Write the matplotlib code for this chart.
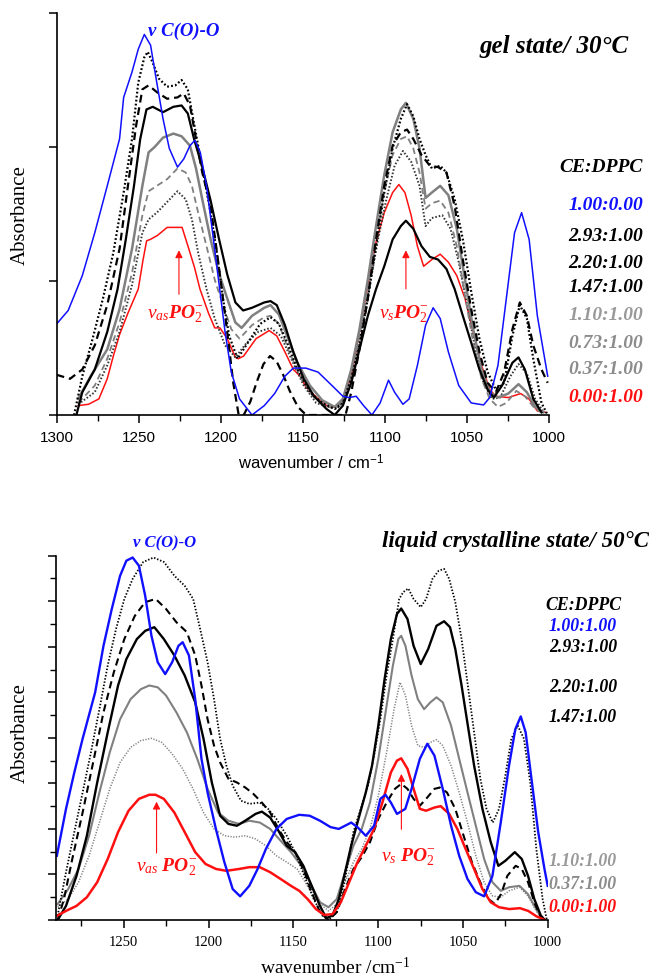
import matplotlib
matplotlib.use("Agg")
import matplotlib.pyplot as plt
from matplotlib.ticker import MultipleLocator

plt.rcParams['mathtext.fontset'] = 'custom'
plt.rcParams['mathtext.rm'] = 'Liberation Serif'
plt.rcParams['mathtext.it'] = 'Liberation Serif:italic'
plt.rcParams['mathtext.bf'] = 'Liberation Serif:bold:italic'

# ---------------- DATA: gel state / 30 C  (wavenumber, absorbance) ----------------
gel_100_000 = [(1300,0.68),(1293,0.78),(1284.4,1.04),(1276.8,1.36),(1269.2,1.71),(1261.7,2.06),(1259.2,2.37),
    (1254.1,2.56),(1250.3,2.73),(1246.6,2.84),(1242.8,2.76),(1239,2.48),(1235.2,2.21),(1231.4,1.99),(1226.4,1.85),
    (1222.6,1.91),(1218.8,2.01),(1215.8,2.05),(1212.5,1.96),(1208.7,1.71),(1205,1.36),(1201.2,0.99),(1197.4,0.62),
    (1193.6,0.32),(1188.6,0.12),(1181,0.0),(1173.5,0.07),(1167.2,0.16),(1160.9,0.29),(1155.8,0.35),(1148.2,0.35),
    (1140.7,0.32),(1133.1,0.23),(1125.6,0.14),(1121.8,0.13),(1117.5,0.14),(1113,0.07),(1107.9,0.0),(1102.9,0.09),
    (1097.8,0.26),(1094.1,0.17),(1089,0.08),(1085.2,0.12),(1080.2,0.37),(1075.2,0.67),(1070.6,0.80),(1066.3,0.72),
    (1061.3,0.47),(1055,0.22),(1047.4,0.09),(1039.9,0.075),(1036.1,0.13),(1031.1,0.37),(1026,0.87),(1021,1.36),
    (1016.7,1.51),(1012.1,1.31),(1007.1,0.74),(1000.8,0.29)]
gel_293_100 = [(1289.4,0.0),(1284.4,0.29),(1278.1,0.57),(1271.8,0.87),(1265.5,1.21),(1259.2,1.66),(1254.1,2.06),
    (1250.3,2.48),(1246.6,2.67),(1244.5,2.71),(1241.5,2.63),(1237.7,2.51),(1232.7,2.45),(1227.7,2.46),(1223.9,2.50),
    (1220.1,2.43),(1217.6,2.26),(1213.8,2.01),(1210,1.76),(1206.2,1.51),(1202.4,1.21),(1198.7,0.87),(1194.9,0.59),
    (1189.8,0.42),(1183.5,0.54),(1176,0.68),(1169.7,0.73),(1164.6,0.68),(1159.6,0.54),(1153.3,0.34),(1145.7,0.17),
    (1138.2,0.09),(1130.6,0.045),(1125.6,0.09),(1120.5,0.27),(1115.5,0.52),(1110.4,0.87),(1105.4,1.26),(1100.4,1.66),
    (1095.3,1.99),(1090.3,2.21),(1086.5,2.32),(1082.7,2.23),(1078.9,2.06),(1075.2,1.94),(1071.4,1.84),(1066.3,1.86),
    (1062.5,1.81),(1057.5,1.61),(1052.5,1.31),(1047.4,0.92),(1042.4,0.57),(1037.4,0.32),(1032.4,0.19),(1027.3,0.24),
    (1022.3,0.59),(1017.8,0.82),(1013.5,0.72),(1009.6,0.42),(1004.6,0.09),(1000.8,0.0)]
gel_220_100 = [(1300,0.30),(1291.9,0.27),(1284.4,0.34),(1276.8,0.52),(1269.2,0.82),(1261.7,1.24),(1256.6,1.71),
    (1251.6,2.16),(1247.8,2.43),(1244,2.46),(1239,2.41),(1232.7,2.36),(1226.4,2.37),(1222.6,2.40),(1218.8,2.31),
    (1215.1,2.06),(1211.3,1.81),(1206.2,1.56),(1201.2,1.11),(1196.1,0.62),(1192.4,0.24),(1189.1,0.0),(1186,0.0),
    (1182,0.10),(1178,0.25),(1174,0.38),(1170,0.44),(1166,0.40),(1162,0.30),(1158,0.18),(1153,0.06),(1148,0.0),
    (1124,0.0),(1120.5,0.17),(1115.5,0.49),(1110.4,0.87),(1105.4,1.31),(1100.4,1.71),(1095.3,2.01),(1090.3,2.11),
    (1086.5,2.13),(1082.7,2.06),(1077.7,1.94),(1072.6,1.86),(1067.6,1.85),(1062.5,1.81),(1057.5,1.56),(1052.5,1.16),
    (1047.4,0.79),(1042.4,0.47),(1037.4,0.24),(1032.4,0.17),(1027.3,0.32),(1022.3,0.64),(1017.8,0.84),(1013.5,0.74),
    (1009.6,0.52),(1004.6,0.34),(1000.8,0.24)]
gel_147_100 = [(1288,0.0),(1284.4,0.17),(1276.8,0.34),(1269.2,0.62),(1262.9,0.94),(1257.9,1.31),(1252.9,1.71),
    (1249.1,2.06),(1245.3,2.28),(1241.5,2.30),(1235.2,2.26),(1228.9,2.30),(1223.9,2.31),(1220.1,2.25),(1216.3,2.06),
    (1211.3,1.85),(1206.2,1.60),(1201.2,1.32),(1196.1,1.05),(1191.1,0.84),(1186.4,0.78),(1181,0.80),(1173.5,0.84),
    (1169.7,0.85),(1165.9,0.82),(1160.9,0.67),(1155.8,0.47),(1149.5,0.27),(1143.2,0.14),(1135.6,0.045),(1130.6,0.0),
    (1125.6,0.07),(1120.5,0.24),(1115.5,0.49),(1110.4,0.74),(1105.4,0.94),(1100.4,1.11),(1095.3,1.31),(1090.3,1.41),
    (1087.2,1.45),(1082.7,1.39),(1077.7,1.26),(1072.6,1.18),(1067.6,1.16),(1062.5,1.09),(1057.5,0.94),(1052.5,0.74),
    (1047.4,0.54),(1042.4,0.34),(1037.4,0.19),(1033.6,0.13),(1028.6,0.22),(1022.3,0.39),(1018.6,0.43),(1014.7,0.34),
    (1009.6,0.12),(1004.6,0.02)]
gel_110_100 = [(1286.9,0.12),(1279.3,0.29),(1269.2,0.49),(1261.7,0.79),(1254.1,1.24),(1247.8,1.71),(1244,1.96),
    (1240.3,2.00),(1235.2,2.07),(1228.9,2.10),(1223.9,2.08),(1218.8,2.01),(1215.1,1.84),(1211.3,1.61),(1206.2,1.31),
    (1201.2,1.06),(1196.1,0.87),(1191.1,0.69),(1187.3,0.65),(1181,0.74),(1173.5,0.80),(1169.7,0.82),(1164.6,0.75),
    (1159.6,0.59),(1153.3,0.39),(1145.7,0.22),(1138.2,0.11),(1130.6,0.06),(1125.6,0.12),(1120.5,0.34),(1115.5,0.64),
    (1110.4,1.01),(1105.4,1.41),(1100.4,1.79),(1095.3,2.11),(1090.3,2.28),(1087.2,2.33),(1082.7,2.21),(1078.9,1.99),
    (1075.2,1.62),(1071.4,1.66),(1066.3,1.71),(1061.3,1.64),(1056.2,1.39),(1051.2,1.01),(1046.2,0.64),(1041.1,0.34),
    (1036.1,0.17),(1031.1,0.13),(1024.8,0.16),(1018.6,0.23),(1013.5,0.17),(1008.4,0.06),(1003.3,0.02)]
gel_073_100 = [(1286.9,0.09),(1276.8,0.22),(1269.2,0.42),(1261.7,0.69),(1254.1,1.06),(1247.8,1.49),(1244,1.67),
    (1239,1.71),(1232.7,1.76),(1226.4,1.84),(1221.4,1.81),(1217.6,1.71),(1213.8,1.51),(1208.7,1.26),(1203.7,1.01),
    (1198.7,0.82),(1193.6,0.64),(1188.6,0.57),(1181,0.67),(1173.5,0.73),(1169.7,0.74),(1164.6,0.68),(1158.3,0.47),
    (1150.8,0.27),(1143.2,0.13),(1135.6,0.07),(1130.6,0.045),(1125.6,0.11),(1120.5,0.29),(1115.5,0.59),(1110.4,0.94),
    (1105.4,1.31),(1100.4,1.66),(1095.3,1.94),(1090.3,2.06),(1086.5,2.08),(1082.7,1.99),(1078.9,1.81),(1075.2,1.54),
    (1071.4,1.58),(1066.3,1.60),(1061.3,1.51),(1056.2,1.26),(1051.2,0.89),(1046.2,0.54),(1041.1,0.27),(1036.1,0.12),
    (1031.1,0.06),(1026,0.09),(1019.9,0.18),(1014.7,0.14),(1008.4,0.045),(1003.3,0.01)]
gel_037_100 = [(1286.9,0.08),(1276.8,0.17),(1269.2,0.37),(1261.7,0.62),(1254.1,0.97),(1247.8,1.36),(1244,1.46),
    (1239,1.51),(1232.7,1.59),(1226.4,1.67),(1221.4,1.61),(1217.6,1.46),(1213.8,1.21),(1208.7,0.94),(1203.7,0.72),
    (1197.4,0.52),(1191.1,0.43),(1184.8,0.53),(1177.3,0.62),(1169.7,0.65),(1163.4,0.59),(1157.1,0.42),(1149.5,0.22),
    (1141.9,0.09),(1134.4,0.06),(1129.3,0.045),(1124.3,0.12),(1119.3,0.32),(1114.2,0.64),(1109.2,0.97),(1104.2,1.31),
    (1099.1,1.61),(1094.1,1.86),(1089,1.97),(1084,1.89),(1078.9,1.71),(1075.2,1.41),(1071.4,1.47),(1065,1.49),
    (1060,1.39),(1055,1.14),(1049.9,0.82),(1044.9,0.49),(1039.9,0.24),(1034.8,0.12),(1029.8,0.13),(1023.5,0.29),
    (1018.6,0.38),(1013.5,0.31),(1008.4,0.12),(1003.3,0.02)]
gel_000_100 = [(1286.9,0.07),(1280.6,0.08),(1274.3,0.12),(1269.2,0.27),(1265.5,0.44),(1261.7,0.60),(1256.6,0.76),
    (1250.3,0.94),(1247.5,1.15),(1245.2,1.30),(1243,1.31),(1238.6,1.34),(1232.7,1.40),(1223.6,1.40),(1220,1.26),
    (1216,1.10),(1212.7,0.94),(1207.5,0.76),(1203.7,0.65),(1200.5,0.65),(1196.1,0.57),(1191.1,0.43),(1189.3,0.42),
    (1186.1,0.44),(1178.5,0.57),(1170.5,0.63),(1165.9,0.59),(1160.9,0.47),(1155.8,0.34),(1151.7,0.29),(1148.2,0.21),
    (1140.7,0.12),(1134.4,0.06),(1130.6,0.06),(1125.6,0.12),(1120.5,0.29),(1115.5,0.62),(1110.4,0.97),(1105.4,1.29),
    (1100.4,1.51),(1095.3,1.66),(1091.5,1.72),(1087.8,1.66),(1084,1.49),(1080.2,1.26),(1076.4,1.11),(1071.4,1.16),
    (1066.3,1.20),(1061.3,1.14),(1056.2,1.04),(1051.2,0.87),(1046.2,0.62),(1041.1,0.37),(1036.1,0.19),(1032.4,0.14),
    (1024.8,0.13),(1017.3,0.16),(1012.2,0.12),(1007.1,0.03),(1002,0.02)]

# ---------------- DATA: liquid crystalline state / 50 C ----------------
lc_100_100 = [(1289.5,1.41),(1284.1,2.44),(1279.2,3.24),(1274.3,3.98),(1266.9,5.00),(1262,6.02),(1257.1,6.83),
    (1252.2,7.56),(1248.5,7.89),(1244.8,7.96),(1241.1,7.78),(1237.4,7.12),(1233.7,6.24),(1230,5.66),(1225.6,5.40),
    (1221.5,5.66),(1217.8,6.02),(1215.3,6.10),(1211.6,5.81),(1207.9,4.85),(1204.2,3.54),(1200.6,2.80),(1195.7,2.00),
    (1190.7,1.27),(1185.8,0.68),(1181.4,0.52),(1176,0.75),(1171.1,1.12),(1166.2,1.56),(1160,2.00),(1153.9,2.22),
    (1146.6,2.31),(1140.4,2.29),(1134.3,2.18),(1128.1,2.04),(1123.2,2.00),(1119.5,2.07),(1115.9,2.14),(1112.2,2.04),
    (1107.3,1.85),(1102.4,2.07),(1098.7,2.66),(1095.7,2.75),(1092.5,2.58),(1088.9,2.33),(1084,2.44),(1080.3,2.88),
    (1075.4,3.54),(1071,3.87),(1066.8,3.61),(1061.9,2.88),(1057,2.07),(1052.2,1.41),(1047.3,0.90),(1042.4,0.61),
    (1037.5,0.52),(1032.6,0.97),(1027.7,2.14),(1022.8,3.39),(1019.1,4.19),(1015.9,4.47),(1013,4.12),(1009.3,3.02),
    (1005.6,1.93),(1001.9,1.12),(1000,0.75)]
lc_293_100 = [(1289,0.10),(1284.1,1.05),(1279.2,1.93),(1274.3,2.80),(1269.4,3.68),(1264.4,4.63),(1259.5,5.59),
    (1254.6,6.39),(1249.7,7.05),(1244.8,7.49),(1238.6,7.86),(1232.5,7.96),(1226.3,7.86),(1220.2,7.56),(1214.1,7.34),
    (1209.1,7.05),(1205.4,6.46),(1200.6,5.66),(1196.8,4.85),(1193.2,3.98),(1189.5,3.39),(1185.8,2.95),(1180.9,2.62),
    (1176,2.55),(1169.8,2.58),(1164.9,2.44),(1160,2.22),(1153.9,1.85),(1149,1.49),(1142.8,0.90),(1138,0.46),
    (1133,0.10),(1129.3,0.0),(1124.4,0.17),(1119.5,0.90),(1114.6,1.93),(1109.7,2.51),(1106,2.95),(1102.4,3.61),
    (1098.7,4.41),(1095,5.37),(1091.3,6.17),(1087.6,7.05),(1085.2,7.20),(1082.2,7.28),(1079.1,7.05),(1074.9,6.87),
    (1071.7,7.05),(1068,7.49),(1064.3,7.67),(1061.1,7.71),(1058.1,7.49),(1054.5,6.98),(1050.8,6.17),(1047.1,5.15),
    (1043.4,4.12),(1039.7,3.10),(1036.1,2.44),(1032.4,2.14),(1028.7,2.44),(1025,3.17),(1021.4,3.98),(1017.7,4.27),
    (1014,3.98),(1010.3,3.02),(1006.7,1.56),(1003,0.46),(1000.5,0.0)]
lc_220_100 = [(1289,0.0),(1285.3,0.46),(1280.4,1.34),(1274.3,2.36),(1268.1,3.46),(1262,4.56),(1255.9,5.44),
    (1249.7,6.17),(1243.5,6.68),(1237.4,6.98),(1231.2,7.05),(1225.1,6.83),(1219,6.54),(1212.8,6.32),(1207.9,5.81),
    (1204.2,5.15),(1200.6,4.41),(1196.8,3.83),(1193.2,3.46),(1188.3,3.10),(1183.3,3.02),(1178.4,2.91),(1173.6,2.77),
    (1168.6,2.58),(1163.7,2.36),(1158.8,2.00),(1153.9,1.71),(1149,1.49),(1144.1,1.12),(1139.2,0.61),(1134.3,0.17),
    (1129.3,0.0),(1124.4,0.17),(1119.5,0.68),(1114.6,1.12),(1109.7,1.38),(1104.8,1.71),(1099.9,2.22),(1095,2.58),
    (1090.1,2.88),(1086.4,2.99),(1082.7,2.88),(1079.1,2.66),(1075.4,2.51),(1071.7,2.66),(1066.8,2.88),(1063.6,2.91),
    (1059.4,2.80),(1054.5,2.44),(1049.6,1.85),(1044.7,1.27),(1039.8,0.83),(1034.9,0.46),(1031.2,0.35),(1027.5,0.57),
    (1023.8,0.97),(1018.9,1.19),(1015.3,1.12),(1011.6,0.83),(1007.9,0.39),(1004.1,0.06)]
lc_147_100 = [(1289,0.0),(1284.1,0.31),(1277.9,0.97),(1271.8,1.85),(1265.7,3.02),(1259.5,4.12),(1253.4,5.15),
    (1248.5,5.73),(1242.3,6.17),(1237.4,6.35),(1232,6.43),(1226.4,6.17),(1220.2,5.81),(1214.1,5.37),(1207.9,4.78),
    (1203,3.98),(1198.1,3.02),(1193.2,2.29),(1188.3,2.11),(1183.3,2.07),(1178.4,2.18),(1172.3,2.33),(1168.6,2.38),
    (1163.7,2.25),(1158.8,1.96),(1153.9,1.63),(1149,1.49),(1144.1,1.19),(1139.2,0.75),(1134.3,0.31),(1130.6,0.04),
    (1126.9,0.10),(1123.2,0.46),(1119.5,1.05),(1115.9,1.63),(1112.2,2.14),(1107.3,2.80),(1103.6,3.39),(1099.9,4.27),
    (1096.2,5.29),(1092.5,6.17),(1088.9,6.72),(1086.4,6.84),(1082.7,6.61),(1079.1,6.02),(1074.9,5.62),(1070.5,5.95),
    (1065.6,6.46),(1061.1,6.56),(1057.6,6.43),(1054.5,5.95),(1050.8,5.15),(1047.1,4.27),(1043.4,3.39),(1038.5,2.44),
    (1033.6,1.71),(1029.1,1.19),(1025,1.30),(1019.4,1.49),(1015.3,1.34),(1011.6,0.97),(1007.9,0.46),(1004.1,0.10),
    (1001.7,0.0)]
lc_110_100 = [(1289,0.35),(1282.8,0.68),(1276.7,1.12),(1270.5,1.85),(1264.4,2.80),(1258.3,3.68),(1252.2,4.41),
    (1246,4.85),(1239.9,5.07),(1235,5.15),(1230,5.11),(1225.1,4.93),(1219,4.56),(1212.8,4.12),(1206.7,3.54),
    (1200.6,2.88),(1194.4,2.36),(1188.3,2.18),(1182.1,2.11),(1176,2.18),(1169.8,2.14),(1163.7,2.00),(1157.5,1.74),
    (1151.4,1.49),(1145.3,1.19),(1139.2,0.75),(1134.3,0.39),(1129.3,0.28),(1124.4,0.46),(1119.5,1.05),(1114.6,1.63),
    (1109.7,2.00),(1104.8,2.58),(1099.9,3.54),(1095,4.71),(1091.3,5.59),(1088.1,6.17),(1086.4,6.24),(1083.9,6.02),
    (1080.3,5.37),(1076.6,4.85),(1072.9,4.63),(1069.2,4.78),(1065.6,4.89),(1061.9,4.78),(1057,4.27),(1052.2,3.54),
    (1047.3,2.80),(1042.4,2.07),(1037.5,1.34),(1032.6,0.83),(1027.7,0.64),(1022.8,0.72),(1016.6,0.75),(1011.7,0.57),
    (1006.8,0.24),(1003.1,0.02)]
lc_037_100 = [(1289,0.28),(1282.8,0.46),(1276.7,0.83),(1270.5,1.41),(1264.4,2.14),(1258.3,2.88),(1252.2,3.46),
    (1246,3.79),(1239.9,3.94),(1233.7,3.99),(1227.6,3.90),(1221.5,3.65),(1215.3,3.32),(1209.2,2.88),(1203,2.36),
    (1196.8,2.00),(1190.7,1.85),(1184.6,1.82),(1178.4,1.85),(1172.3,1.78),(1166.2,1.63),(1160,1.41),(1153.9,1.27),
    (1147.8,1.12),(1141.7,0.75),(1135.5,0.39),(1129.3,0.20),(1124.4,0.35),(1119.5,0.83),(1114.6,1.27),(1109.7,1.56),
    (1104.8,2.00),(1099.9,2.73),(1095,3.68),(1090.6,4.63),(1087.1,5.22),(1083.9,4.93),(1080.3,4.27),(1076.6,3.83),
    (1072.9,3.79),(1069.2,3.90),(1065.6,3.96),(1061.9,3.83),(1057,3.39),(1052.2,2.80),(1047.3,2.14),(1042.4,1.41),
    (1037.5,0.83),(1032.6,0.53),(1027.7,0.50),(1022.8,0.64),(1016.6,0.72),(1011.7,0.53),(1006.8,0.20),(1003.1,0.02)]
lc_000_100 = [(1289,0.10),(1284.1,0.20),(1277.9,0.31),(1271.8,0.50),(1265.7,0.83),(1259.5,1.34),(1253.4,1.93),
    (1247.2,2.40),(1241.1,2.66),(1235,2.75),(1231.3,2.75),(1226.4,2.66),(1220.2,2.36),(1214.1,1.93),(1207.9,1.49),
    (1201.8,1.23),(1195.6,1.12),(1189.5,1.08),(1182.1,1.12),(1176,1.16),(1169.8,1.16),(1163.7,1.05),(1157.5,0.90),
    (1151.4,0.75),(1146.5,0.64),(1141.6,0.46),(1136.7,0.24),(1131.8,0.11),(1126.9,0.13),(1122,0.39),(1117.1,0.83),
    (1112.2,1.27),(1107.3,1.63),(1102.4,2.00),(1097.5,2.58),(1092.5,3.24),(1088.9,3.50),(1086.4,3.55),(1082.7,3.32),
    (1079.1,2.88),(1075.4,2.44),(1071.7,2.40),(1066.8,2.47),(1063.1,2.50),(1058.1,2.33),(1053.3,2.00),(1048.4,1.56),
    (1043.4,1.12),(1038.5,0.68),(1033.6,0.39),(1028.7,0.28),(1022.6,0.24),(1016.4,0.26),(1011.5,0.20),(1006.6,0.08),
    (1001.7,0.0)]

gel_labels = ['1.00:0.00', '2.93:1.00', '2.20:1.00', '1.47:1.00', '1.10:1.00', '0.73:1.00', '0.37:1.00', '0.00:1.00']
lc_labels = ['1.00:1.00', '2.93:1.00', '2.20:1.00', '1.47:1.00', '1.10:1.00', '0.37:1.00', '0.00:1.00']
gel_xticks = [1300, 1250, 1200, 1150, 1100, 1050, 1000]
lc_xticks = [1250, 1200, 1150, 1100, 1050, 1000]

# ---------------- STYLE ----------------
BLUE = '#1010ff'
RED = '#ff1010'
BLACK = '#000000'
GRAY = '#808080'
LGRAY = '#8c8c8c'
SERIF = 'Liberation Serif'
SANS = 'Liberation Sans'

W, H = 649, 978
fig = plt.figure(figsize=(W / 100, H / 100), dpi=100)


def fp(x, y):
    return x / W, 1 - y / H


def axes_px(x0, y0, x1, y1):
    return fig.add_axes([x0 / W, 1 - y1 / H, (x1 - x0) / W, (y1 - y0) / H])


def style_axes(ax, tickfont, tsize, pad):
    for s in ('top', 'right'):
        ax.spines[s].set_visible(False)
    for s in ('left', 'bottom'):
        ax.spines[s].set_linewidth(1.2)
    ax.tick_params(axis='both', which='major', direction='out', length=6, width=1.1,
                   labelsize=tsize, pad=pad)
    ax.tick_params(axis='both', which='minor', direction='out', length=4, width=1.0)
    ax.tick_params(axis='y', which='both', labelleft=False)
    for lab in ax.get_xticklabels():
        lab.set_fontfamily(tickfont)


def draw(ax, data, color, ls, lw):
    w, a = zip(*data)
    ax.plot(w, a, color=color, linestyle=ls, linewidth=lw, solid_joinstyle='round')


DOT = (0, (0.8, 1.0))
DASH = (0, (3.5, 2.2))

# ---------------- TOP PANEL ----------------
ax1 = axes_px(56.7, 14, 549, 416)
ax1.set_xlim(1300, 1000)
ax1.set_ylim(0, 3)
ax1.set_xticks(gel_xticks)
ax1.xaxis.set_minor_locator(MultipleLocator(25))
ax1.yaxis.set_major_locator(MultipleLocator(1))
style_axes(ax1, SANS, 11, 5)

draw(ax1, gel_000_100, RED, '-', 1.1)
draw(ax1, gel_037_100, '#333333', DOT, 1.4)
draw(ax1, gel_073_100, GRAY, DASH, 1.3)
draw(ax1, gel_110_100, GRAY, '-', 1.8)
draw(ax1, gel_147_100, BLACK, '-', 1.6)
draw(ax1, gel_220_100, BLACK, DASH, 1.6)
draw(ax1, gel_293_100, BLACK, DOT, 1.6)
draw(ax1, gel_100_000, BLUE, '-', 1.1)

ax1.annotate('', xy=(1225.5, 1.25), xytext=(1225.5, 0.88),
             arrowprops=dict(arrowstyle='-|>', color=RED, lw=0.8, mutation_scale=11))
ax1.annotate('', xy=(1087.2, 1.25), xytext=(1087.2, 0.92),
             arrowprops=dict(arrowstyle='-|>', color=RED, lw=0.8, mutation_scale=11))
ax1.text(1227.5, 0.76, r'$\nu_{as}\mathbf{PO}_{2}^{-}$', color=RED, fontsize=14,
         ha='center', va='center')
ax1.text(1088.4, 0.76, r'$\nu_{s}\mathbf{PO}_{2}^{-}$', color=RED, fontsize=14,
         ha='center', va='center')

fig.text(*fp(148, 31), 'ν C(O)-O', color=BLUE, fontsize=13.5, family=SERIF,
         weight='bold', style='italic', ha='left', va='center')
fig.text(*fp(629, 47), 'gel state/ 30°C', color=BLACK, fontsize=18, family=SERIF,
         weight='bold', style='italic', ha='right', va='center')
fig.text(*fp(20, 215), 'Absorbance', fontsize=15, family=SERIF, rotation=90,
         ha='center', va='center')
fig.text(*fp(311, 463), r'wavenumber / cm$^{\mathregular{-1}}$', fontsize=12, family=SANS,
         ha='center', va='center')

gel_colors = [BLUE, BLACK, BLACK, BLACK, '#999999', LGRAY, LGRAY, RED]
gel_ly = [205, 237, 263, 288, 316, 343, 370, 397]
fig.text(*fp(643, 167), 'CE:DPPC', fontsize=14, family=SERIF, weight='bold',
         style='italic', ha='right', va='center')
for lab, col, y in zip(gel_labels, gel_colors, gel_ly):
    fig.text(*fp(643, y), lab, color=col, fontsize=14, family=SERIF, weight='bold',
             style='italic', ha='right', va='center')

# ---------------- BOTTOM PANEL ----------------
ax2 = axes_px(56, 556.7, 547.7, 921)
ax2.set_xlim(1290, 1000)
ax2.set_ylim(0, 8)
ax2.set_xticks(lc_xticks)
ax2.xaxis.set_minor_locator(MultipleLocator(25))
ax2.yaxis.set_major_locator(MultipleLocator(1))
ax2.yaxis.set_minor_locator(MultipleLocator(0.5))
style_axes(ax2, SERIF, 10.5, 5)

draw(ax2, lc_037_100, GRAY, DOT, 1.1)
draw(ax2, lc_110_100, GRAY, '-', 1.5)
draw(ax2, lc_220_100, BLACK, DASH, 1.5)
draw(ax2, lc_293_100, BLACK, DOT, 1.3)
draw(ax2, lc_147_100, BLACK, '-', 1.7)
draw(ax2, lc_000_100, RED, '-', 1.8)
draw(ax2, lc_100_100, BLUE, '-', 1.7)

ax2.annotate('', xy=(1230.7, 2.66), xytext=(1230.7, 1.41),
             arrowprops=dict(arrowstyle='-|>', color=RED, lw=0.8, mutation_scale=11))
ax2.annotate('', xy=(1086.3, 3.27), xytext=(1086.3, 1.93),
             arrowprops=dict(arrowstyle='-|>', color=RED, lw=0.8, mutation_scale=11))
ax2.text(1225, 1.19, r'$\nu_{as}\ \mathbf{PO}_{2}^{-}$', color=RED, fontsize=14,
         ha='center', va='center')
ax2.text(1082.2, 1.41, r'$\nu_{s}\ \mathbf{PO}_{2}^{-}$', color=RED, fontsize=14,
         ha='center', va='center')

fig.text(*fp(133, 543), 'ν C(O)-O', color=BLUE, fontsize=12, family=SERIF,
         weight='bold', style='italic', ha='left', va='center')
fig.text(*fp(649, 542), 'liquid crystalline state/ 50°C', color=BLACK, fontsize=16.5,
         family=SERIF, weight='bold', style='italic', ha='right', va='center')
fig.text(*fp(20, 733), 'Absorbance', fontsize=15, family=SERIF, rotation=90,
         ha='center', va='center')
fig.text(*fp(335, 968), r'wavenumber /cm$^{\mathregular{-1}}$', fontsize=14, family=SERIF,
         ha='center', va='center')

lc_colors = [BLUE, BLACK, BLACK, BLACK, '#999999', LGRAY, RED]
lc_ly = [627, 647, 687, 718, 862, 885, 908]
fig.text(*fp(622, 605), 'CE:DPPC', fontsize=12.8, family=SERIF, weight='bold',
         style='italic', ha='right', va='center')
for lab, col, y in zip(lc_labels, lc_colors, lc_ly):
    fig.text(*fp(617, y), lab, color=col, fontsize=12.8, family=SERIF, weight='bold',
             style='italic', ha='right', va='center')

fig.savefig('out.png', dpi=100)
